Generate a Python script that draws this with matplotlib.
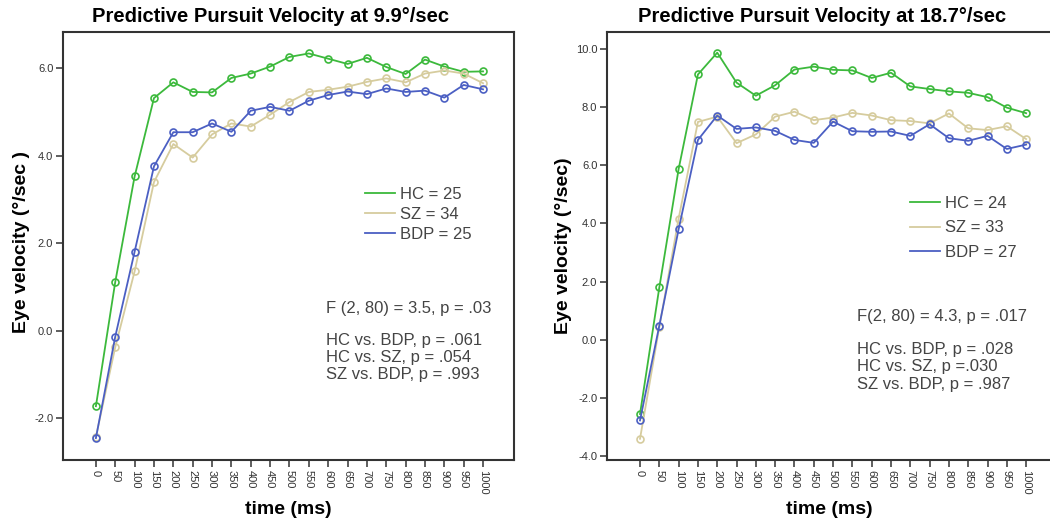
import matplotlib
matplotlib.use("agg")
import matplotlib.pyplot as plt

plt.rcParams['font.family'] = ['Liberation Sans', 'DejaVu Sans']

times = list(range(0, 1001, 50))

# 9.9 deg/sec
hc_slow = [-1.72, 1.12, 3.53, 5.32, 5.68, 5.46, 5.45, 5.78, 5.88, 6.04, 6.26,
           6.34, 6.22, 6.10, 6.24, 6.03, 5.87, 6.20, 6.04, 5.92, 5.93]
sz_slow = [-2.42, -0.37, 1.36, 3.40, 4.27, 3.96, 4.49, 4.74, 4.67, 4.94, 5.23,
           5.46, 5.51, 5.58, 5.69, 5.77, 5.68, 5.88, 5.95, 5.88, 5.66]
bdp_slow = [-2.45, -0.13, 1.81, 3.76, 4.54, 4.54, 4.74, 4.55, 5.03, 5.12, 5.03,
            5.26, 5.39, 5.47, 5.41, 5.54, 5.46, 5.49, 5.33, 5.62, 5.52]

# 18.7 deg/sec
hc_fast = [-2.55, 1.80, 5.87, 9.12, 9.87, 8.84, 8.39, 8.75, 9.29, 9.39, 9.28,
           9.26, 9.00, 9.18, 8.71, 8.62, 8.54, 8.49, 8.34, 7.98, 7.79]
sz_fast = [-3.40, 0.44, 4.17, 7.49, 7.67, 6.76, 7.06, 7.67, 7.84, 7.55, 7.64,
           7.80, 7.71, 7.55, 7.52, 7.44, 7.78, 7.27, 7.21, 7.34, 6.90]
bdp_fast = [-2.77, 0.49, 3.80, 6.87, 7.71, 7.25, 7.30, 7.18, 6.87, 6.77, 7.50,
            7.17, 7.15, 7.16, 7.01, 7.41, 6.93, 6.84, 7.01, 6.56, 6.71]

labels_slow = ['HC = 25', 'SZ = 34', 'BDP = 25']
labels_fast = ['HC = 24', 'SZ = 33', 'BDP = 27']
stats_slow = ['F (2, 80) = 3.5, p = .03',
              'HC vs. BDP, p = .061\nHC vs. SZ, p = .054\nSZ vs. BDP, p = .993']
stats_fast = ['F(2, 80) = 4.3, p = .017',
              'HC vs. BDP, p = .028\nHC vs. SZ, p =.030\nSZ vs. BDP, p = .987']

colors = ['#3cb93c', '#d6cc9e', '#4b5fc3']
W, H = 1050.0, 525.0


def px(x0, y0, x1, y1):
    # pixel box -> figure fraction
    return [x0 / W, 1 - y1 / H, (x1 - x0) / W, (y1 - y0) / H]


def plot_panel(fig, box, series, labels, stats, yticks, ylim, xlim,
               title, title_x, ylabel, ylabel_xy, leg_xy, leg_sp, stat_xy,
               stat_ls):
    ax = fig.add_axes(px(*box))
    for vals, lab, c in zip(series, labels, colors):
        ax.plot(times, vals, color=c, lw=1.3, marker='o', ms=5,
                mfc='none', mec=c, mew=1.2, label=lab)
    ax.set_xlim(*xlim)
    ax.set_ylim(*ylim)
    ax.set_xticks(times)
    ax.set_xticklabels([str(t) for t in times], rotation=270, fontsize=8,
                       color='#333333')
    ax.set_yticks(yticks)
    ax.set_yticklabels(['%.1f' % v for v in yticks], fontsize=8,
                       color='#333333')
    ax.tick_params(direction='out', length=5, width=1.1, color='#333333', pad=2)
    for s in ax.spines.values():
        s.set_linewidth(1.5)
        s.set_color('#333333')
    fig.text(title_x / W, 1 - 16 / H, title, ha='center', va='center',
             fontsize=14.5, fontweight='bold')
    fig.text(ylabel_xy[0] / W, 1 - ylabel_xy[1] / H, ylabel, rotation=90,
             ha='center', va='center', fontsize=14, fontweight='bold')
    ax.set_xlabel('time (ms)', fontsize=14, fontweight='bold', labelpad=5)
    ax.legend(loc='upper left', bbox_to_anchor=(leg_xy[0] / W, 1 - leg_xy[1] / H),
              bbox_transform=fig.transFigure, frameon=False, fontsize=12,
              handlelength=1.8, handletextpad=0.3, labelspacing=leg_sp,
              borderpad=0)
    for h in ax.get_legend().get_lines():
        h.set_marker('')
    for t in ax.get_legend().get_texts():
        t.set_color('#444444')
    fig.text(stat_xy[0] / W, 1 - stat_xy[1] / H, stats[0], fontsize=12,
             color='#444444', va='center')
    fig.text(stat_xy[0] / W, 1 - (stat_xy[1] + 25) / H, stats[1], fontsize=12,
             color='#444444', va='top', linespacing=stat_ls)
    return ax


fig = plt.figure(figsize=(10.5, 5.25), dpi=100)

plot_panel(fig, (63, 32, 514, 460), [hc_slow, sz_slow, bdp_slow], labels_slow,
           stats_slow, [-2.0, 0.0, 2.0, 4.0, 6.0], (-2.95, 6.83), (-85, 1080),
           'Predictive Pursuit Velocity at 9.9°/sec', 271,
           'Eye velocity (°/sec )', (22, 242), (357, 179), 0.3, (326, 308), 1.15)

plot_panel(fig, (607, 32, 1052, 460), [hc_fast, sz_fast, bdp_fast], labels_fast,
           stats_fast, [-4.0, -2.0, 0.0, 2.0, 4.0, 6.0, 8.0, 10.0], (-4.13, 10.58),
           (-85.5, 1067), 'Predictive Pursuit Velocity at 18.7°/sec', 822,
           'Eye velocity (°/sec)', (564, 246), (902, 188), 0.55, (857, 317), 1.2)

fig.savefig('out.png', dpi=100)
